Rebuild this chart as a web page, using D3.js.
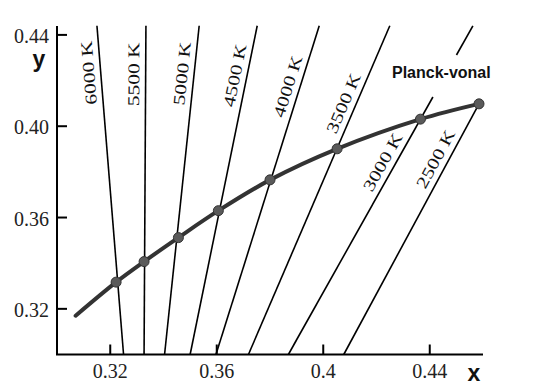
<!DOCTYPE html>
<html><head><meta charset="utf-8">
<script src="https://cdn.jsdelivr.net/npm/d3@7"></script>
<style>
html,body{margin:0;padding:0;background:#fff;}
svg{display:block;}
</style></head>
<body>
<svg id="chart" width="534" height="387"></svg>
<script>
// ---- data ----
const planckX = [0.307, 0.3222, 0.3327, 0.3456, 0.3606, 0.380, 0.4052, 0.4365, 0.4585];
const planckY = [0.317, 0.3317, 0.3407, 0.3512, 0.3630, 0.3765, 0.3901, 0.4031, 0.4098];
const planckDot = [false, true, true, true, true, true, true, true, true];

const temps   = ["6000 K","5500 K","5000 K","4500 K","4000 K","3500 K","3000 K","2500 K"];
const isoTopX = [0.315, 0.3334, 0.3534, 0.3752, 0.3985, 0.425, 0.4562, 0.4585];
const isoTopY = [0.444, 0.444, 0.444, 0.444, 0.444, 0.444, 0.444, 0.4098];
const isoBotX = [0.325, 0.3327, 0.3404, 0.3500, 0.3597, 0.3719, 0.3869, 0.4077];
const isoBotY = [0.30, 0.30, 0.30, 0.30, 0.30, 0.30, 0.30, 0.30];
// gap in the line (y range) left for the curve label
const isoGap  = [null, null, null, null, null, null, [0.4312, 0.4128], null];
const labelY  = [0.4238, 0.4227, 0.4225, 0.4212, 0.4159, 0.4080, 0.3817, 0.3831];

const xTicks = [0.32, 0.36, 0.40, 0.44];
const xTickLabels = ["0.32", "0.36", "0.4", "0.44"];
const yTicks = [0.32, 0.36, 0.40, 0.44];
const yTickLabels = ["0.32", "0.36", "0.40", "0.44"];

// ---- scales ----
const x = d3.scaleLinear().domain([0.30, 0.46]).range([57, 483]);
const y = d3.scaleLinear().domain([0.30, 0.4439]).range([354.5, 26]);

const svg = d3.select("#chart");
const serif = "'Liberation Serif','DejaVu Serif',serif";
const sans = "'Liberation Sans',Arial,sans-serif";

// ---- isotherms ----
const gIso = svg.append("g");
temps.forEach((t, i) => {
  const x1 = isoTopX[i], y1 = isoTopY[i], x2 = isoBotX[i], y2 = isoBotY[i];
  const xAt = yy => x1 + (x2 - x1) * (yy - y1) / (y2 - y1);
  let segs;
  if (isoGap[i]) {
    segs = [[[x1, y1], [xAt(isoGap[i][0]), isoGap[i][0]]],
            [[xAt(isoGap[i][1]), isoGap[i][1]], [x2, y2]]];
  } else segs = [[[x1, y1], [x2, y2]]];
  segs.forEach(s => {
    gIso.append("line")
      .attr("x1", x(s[0][0])).attr("y1", y(s[0][1]))
      .attr("x2", x(s[1][0])).attr("y2", y(s[1][1]))
      .attr("stroke", "#000").attr("stroke-width", 1.6);
  });
  // label
  const ly = labelY[i], lx = xAt(ly);
  const dx = x(x1) - x(x2), dy = y(y1) - y(y2);
  const ang = Math.atan2(dy, dx) * 180 / Math.PI;
  gIso.append("text")
    .attr("transform", `translate(${x(lx)},${y(ly)}) rotate(${ang}) scale(1.3,1)`)
    .attr("y", -12)
    .attr("dominant-baseline", "central")
    .attr("text-anchor", "middle")
    .attr("font-family", serif).attr("font-size", 16.5)
    .attr("fill", "#111")
    .text(t);
});

// ---- axes ----
const gAx = svg.append("g");
gAx.append("line").attr("x1", x(0.30)).attr("x2", x(0.30)).attr("y1", y(0.4439)).attr("y2", y(0.30))
  .attr("stroke", "#000").attr("stroke-width", 2);
gAx.append("line").attr("x1", x(0.30)-1).attr("x2", x(0.46)).attr("y1", y(0.30)).attr("y2", y(0.30))
  .attr("stroke", "#000").attr("stroke-width", 2);
yTicks.forEach((v, i) => {
  gAx.append("line").attr("x1", x(0.30)).attr("x2", x(0.30) + 10).attr("y1", y(v)).attr("y2", y(v))
    .attr("stroke", "#000").attr("stroke-width", 2);
  gAx.append("text").attr("x", x(0.30) - 8).attr("y", y(v) + 1)
    .attr("text-anchor", "end").attr("dominant-baseline", "central")
    .attr("font-family", serif).attr("font-size", 20).attr("fill", "#222")
    .text(yTickLabels[i]);
});
xTicks.forEach((v, i) => {
  gAx.append("line").attr("x1", x(v)).attr("x2", x(v)).attr("y1", y(0.30)).attr("y2", y(0.30) - 10)
    .attr("stroke", "#000").attr("stroke-width", 2);
  gAx.append("text").attr("x", x(v)).attr("y", 378)
    .attr("text-anchor", "middle")
    .attr("font-family", serif).attr("font-size", 20).attr("fill", "#222")
    .text(xTickLabels[i]);
});
svg.append("text").attr("x", 39).attr("y", 67).attr("text-anchor", "middle")
  .attr("font-family", sans).attr("font-weight", "bold").attr("font-size", 23).attr("fill", "#111").text("y");
svg.append("text").attr("x", 474).attr("y", 381).attr("text-anchor", "middle")
  .attr("font-family", sans).attr("font-weight", "bold").attr("font-size", 23).attr("fill", "#111").text("x");

// ---- Planck curve ----
const pts = planckX.map((v, i) => [v, planckY[i]]);
svg.append("path")
  .attr("d", d3.line().x(d => x(d[0])).y(d => y(d[1])).curve(d3.curveCatmullRom)(pts))
  .attr("fill", "none").attr("stroke", "#333").attr("stroke-width", 4).attr("stroke-linecap", "round");
svg.append("g").selectAll("circle").data(pts.filter((d, i) => planckDot[i]))
  .join("circle")
  .attr("cx", d => x(d[0])).attr("cy", d => y(d[1])).attr("r", 5)
  .attr("fill", "#5a5a5a").attr("stroke", "#333").attr("stroke-width", 1);

svg.append("text").attr("x", 392).attr("y", 78)
  .attr("font-family", sans).attr("font-weight", "bold").attr("font-size", 16).attr("fill", "#111")
  .text("Planck-vonal");
</script>
</body></html>
